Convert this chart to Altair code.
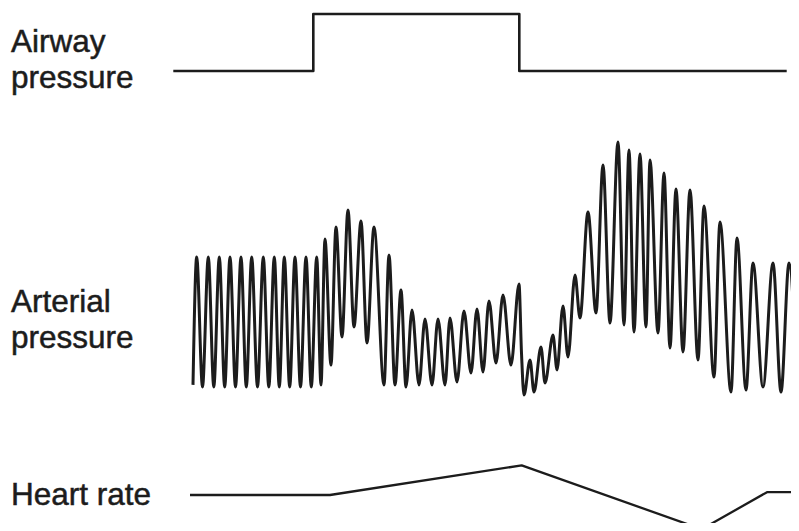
import altair as alt
import pandas as pd

# ---- data (time in s, airway cmH2O, arterial mmHg, HR bpm) ----
airway_t = [16.53, 30.53, 30.53, 51.13, 51.13, 77.87]
airway_cmh2o = [0, 0, 40, 40, 0, 0]

hr_t = [18.2, 32.2, 51.37, 69.37, 75.9, 79.1]
hr_bpm = [70, 70, 84.8, 52.9, 71.4, 71.4]

art_t = [18.5, 18.87, 19.45, 20.03, 20.58, 21.13, 21.67, 22.2, 22.75, 23.3,
         23.83, 24.37, 24.95, 25.53, 26.08, 26.63, 27.13, 27.63, 28.17, 28.7,
         29.25, 29.8, 30.33, 30.87, 31.3, 31.7, 32.3, 32.8, 33.4, 34.0,
         34.6, 35.3, 35.9, 36.6, 37.6, 38.1, 38.7, 39.3, 39.8, 40.4,
         41.1, 41.7, 42.4, 43.0, 43.7, 44.2, 44.9, 45.6, 46.3, 46.9,
         47.5, 48.1, 48.8, 49.5, 50.3, 51.1, 51.35, 51.6, 52.2, 52.6,
         53.3, 53.7, 54.5, 54.9, 55.5, 56.0, 56.7, 57.2, 58.0, 58.8,
         59.5, 60.2, 61.0, 61.6, 62.1, 62.6, 63.2, 63.8, 64.2, 65.0,
         65.6, 66.2, 66.8, 67.5, 68.2, 69.0, 69.6, 70.6, 71.2, 72.3,
         72.9, 73.8, 74.5, 75.5, 76.5, 77.3, 78.1, 78.9]
art_mmhg = [71.7, 114.3, 71.0, 114.3, 71.0, 114.3, 71.0, 114.3, 71.0, 114.3,
            71.0, 114.3, 71.0, 114.3, 71.0, 114.3, 71.0, 114.3, 71.0, 114.3,
            71.0, 114.3, 71.0, 114.3, 71.7, 120.3, 78.3, 124.3, 87.7, 130.0,
            91.0, 126.3, 85.7, 124.3, 71.7, 115.0, 71.7, 103.3, 71.0, 96.7,
            71.7, 93.7, 71.7, 93.7, 71.7, 94.0, 72.7, 96.3, 75.7, 97.0,
            76.0, 99.7, 79.0, 101.7, 78.3, 105.3, 82.3, 68.3, 80.0, 69.3,
            84.3, 72.3, 88.3, 76.7, 98.0, 81.0, 108.3, 94.0, 129.3, 95.7,
            145.0, 92.3, 152.7, 91.7, 150.0, 89.3, 148.7, 91.0, 146.7, 89.0,
            142.3, 84.0, 137.0, 82.7, 136.7, 80.0, 131.3, 74.3, 126.0, 69.3,
            120.7, 70.0, 112.3, 71.0, 112.3, 69.3, 112.3, 69.0]

airway_label_text = ["Airway", "pressure"]
airway_label_val = [13.5, -12.1]
art_label_text = ["Arterial", "pressure"]
art_label_val = [96.1, 83.9]
hr_label_text = ["Heart rate"]
hr_label_val = [65]
label_t = 0.3

# ---- tables ----
airway_df = pd.DataFrame({"t": airway_t, "v": airway_cmh2o, "o": list(range(len(airway_t)))})
hr_df = pd.DataFrame({"t": hr_t, "v": hr_bpm, "o": list(range(len(hr_t)))})
art_df = pd.DataFrame({"t": art_t, "v": art_mmhg, "o": list(range(len(art_t)))})
airway_lab = pd.DataFrame({"t": [label_t] * 2, "v": airway_label_val, "s": airway_label_text})
art_lab = pd.DataFrame({"t": [label_t] * 2, "v": art_label_val, "s": art_label_text})
hr_lab = pd.DataFrame({"t": [label_t], "v": hr_label_val, "s": hr_label_text})

W, H = 783, 515
xs = alt.Scale(domain=[0, 78.3], range=[0, W])
air_s = alt.Scale(domain=[0, 40], range=[63, 6])
art_s = alt.Scale(domain=[40, 160], range=[472, 112])
hr_s = alt.Scale(domain=[50, 90], range=[527, 447])

ink = "#1c1c1c"
X = alt.X("t:Q", scale=xs, axis=None)


def trace(df, sc, width, interp):
    return alt.Chart(df).mark_line(color=ink, strokeWidth=width, interpolate=interp,
                                   strokeJoin="round", strokeCap="butt").encode(
        x=X, y=alt.Y("v:Q", scale=sc, axis=None), order="o:Q")


def labels(df, sc):
    return alt.Chart(df).mark_text(align="left", baseline="alphabetic", font="Liberation Sans",
                                   fontSize=31.5, color=ink, stroke=ink, strokeWidth=0.5).encode(
        x=X, y=alt.Y("v:Q", scale=sc, axis=None), text="s:N")


chart = alt.layer(
    trace(airway_df, air_s, 2.6, "linear"),
    labels(airway_lab, air_s),
    trace(art_df, art_s, 3.0, "monotone"),
    labels(art_lab, art_s),
    trace(hr_df, hr_s, 2.3, "linear"),
    labels(hr_lab, hr_s),
).resolve_scale(y="independent").properties(
    width=W, height=H, padding=0, autosize=alt.AutoSizeParams(type="none"),
    background="white"
).configure_view(stroke=None)

chart.save("out.html", embed_options={"renderer": "svg", "actions": False})
